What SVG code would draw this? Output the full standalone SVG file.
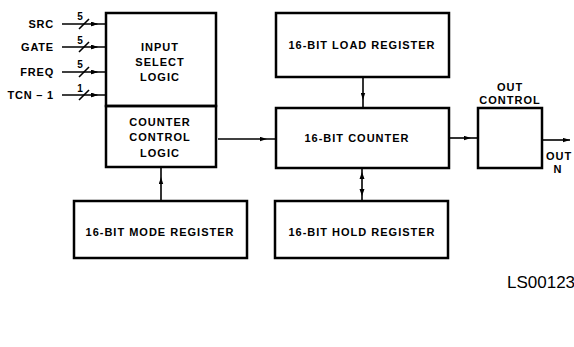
<svg xmlns="http://www.w3.org/2000/svg" width="574" height="347" viewBox="0 0 574 347">
<defs>
<style>
.box{fill:none;stroke:#000;stroke-width:2.5}
.ln{fill:none;stroke:#000;stroke-width:1.6}
.t{font-family:"Liberation Sans",Arial,sans-serif;font-weight:bold;font-size:11px;letter-spacing:1px;fill:#000;text-anchor:middle}
.lab{font-family:"Liberation Sans",Arial,sans-serif;font-weight:bold;font-size:11px;letter-spacing:0.8px;fill:#000;text-anchor:end}
.num{font-family:"Liberation Sans",Arial,sans-serif;font-weight:bold;font-size:10px;fill:#000;text-anchor:middle}
</style>
<marker id="ah" markerWidth="7" markerHeight="5" refX="7" refY="2.5" orient="auto-start-reverse" markerUnits="userSpaceOnUse">
<path d="M0,0.3 L7,2.5 L0,4.7 Z" fill="#000"/>
</marker>
</defs>
<rect width="574" height="347" fill="#fff"/>

<g id="input-select-logic">
<rect class="box" x="106" y="13" width="110" height="93"/>
<text class="t" x="160" y="51">INPUT</text>
<text class="t" x="160" y="66">SELECT</text>
<text class="t" x="160" y="81">LOGIC</text>
</g>
<g id="counter-control-logic">
<rect class="box" x="106" y="106" width="110" height="61"/>
<text class="t" x="160" y="126">COUNTER</text>
<text class="t" x="160" y="141">CONTROL</text>
<text class="t" x="160" y="157">LOGIC</text>
</g>
<g id="load-register">
<rect class="box" x="276" y="13" width="173" height="64"/>
<text class="t" x="362" y="49">16-BIT LOAD REGISTER</text>
</g>
<g id="counter">
<rect class="box" x="276" y="108" width="173" height="60"/>
<text class="t" x="357" y="142">16-BIT COUNTER</text>
</g>
<g id="out-control">
<rect class="box" x="478" y="108" width="64" height="60"/>
<text class="t" x="510" y="91">OUT</text>
<text class="t" x="510" y="104">CONTROL</text>
</g>
<g id="mode-register">
<rect class="box" x="74" y="201" width="173" height="57"/>
<text class="t" x="160" y="236">16-BIT MODE REGISTER</text>
</g>
<g id="hold-register">
<rect class="box" x="275" y="201" width="173" height="57"/>
<text class="t" x="362" y="236">16-BIT HOLD REGISTER</text>
</g>

<g id="inputs">
<text class="lab" x="54" y="28">SRC</text>
<text class="lab" x="54" y="51">GATE</text>
<text class="lab" x="54" y="76">FREQ</text>
<text class="lab" x="54" y="99">TCN – 1</text>
<text class="num" x="80" y="20">5</text>
<text class="num" x="80" y="44">5</text>
<text class="num" x="80" y="68">5</text>
<text class="num" x="80" y="92">1</text>
</g>

<g id="connectors">
<path class="ln" d="M62,24 H98 M98,24 H105" marker-mid="url(#ah)"/>
<path class="ln" d="M62,47 H98 M98,47 H105" marker-mid="url(#ah)"/>
<path class="ln" d="M62,72 H98 M98,72 H105" marker-mid="url(#ah)"/>
<path class="ln" d="M62,95 H98 M98,95 H105" marker-mid="url(#ah)"/>
<line class="ln" x1="79" y1="29" x2="89" y2="19"/>
<line class="ln" x1="79" y1="52" x2="89" y2="42"/>
<line class="ln" x1="79" y1="77" x2="89" y2="67"/>
<line class="ln" x1="79" y1="100" x2="89" y2="90"/>
<path class="ln" d="M218,139 H267 L276,139" marker-mid="url(#ah)"/>
<path class="ln" d="M363,78 V100 L363,108" marker-mid="url(#ah)"/>
<path class="ln" d="M450,138 H471 L478,138" marker-mid="url(#ah)"/>
<line class="ln" x1="543" y1="140" x2="570" y2="140" marker-end="url(#ah)"/>
<path class="ln" d="M161,201 V177 L161,168" marker-mid="url(#ah)"/>
<line class="ln" x1="362" y1="169" x2="362" y2="201"/>
<polygon points="359.5,179 364.5,179 362,172" fill="#000"/>
<polygon points="359.5,189 364.5,189 362,196" fill="#000"/>
</g>

<g id="out-label">
<text class="t" x="559" y="160">OUT</text>
<text class="t" x="558" y="173">N</text>
</g>
<text x="507" y="288" style="font-family:'Liberation Sans',Arial,sans-serif;font-size:17px;fill:#000">LS00123</text>
</svg>
